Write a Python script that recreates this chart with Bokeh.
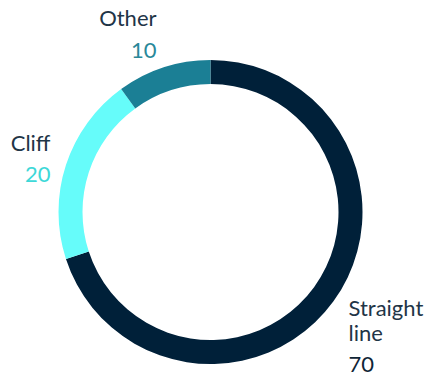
import math
from bokeh.plotting import figure
from bokeh.models import ColumnDataSource, Range1d
from bokeh.core.properties import value
from bokeh.embed import file_html
from bokeh.resources import INLINE

# data
categories = ["Straight line", "Cliff", "Other"]
values = [70, 20, 10]
seg_colors = ["#002039", "#66fcfa", "#1b7f95"]
value_colors = ["#0f2536", "#3ed8d8", "#2a8899"]
name_color = "#1f3547"

W, H = 427, 377
cx, cy = 210, H - 211.5
r_out, r_in = 152, 128

total = sum(values)
starts, ends = [], []
acc = 0
for v in values:
    starts.append(math.pi / 2 - 2 * math.pi * acc / total)
    acc += v
    ends.append(math.pi / 2 - 2 * math.pi * acc / total)

p = figure(width=W, height=H, output_backend="svg", toolbar_location=None,
           x_range=Range1d(0, W), y_range=Range1d(0, H), min_border=0)
p.axis.visible = False
p.grid.visible = False
p.outline_line_color = None

src = ColumnDataSource(dict(start=starts, end=ends, color=seg_colors))
p.annular_wedge(x=cx, y=cy, inner_radius=r_in, outer_radius=r_out,
                start_angle="start", end_angle="end", direction="clock",
                fill_color="color", line_color=None, source=src)

# label layout (pixel positions from top-left)
name_x = [348, 50, 156]
name_top = [293, 128, 3]
value_top = [356, 166, 42]
aligns = ["left", "right", "right"]
names = ["Straight\nline", "Cliff", "Other"]

fs = "22px"
font = value("Lato")
for i in range(3):
    p.text(x=[name_x[i]], y=[H - name_top[i]], text=[names[i]],
           text_font=font, text_font_size=fs, text_color=name_color,
           text_align=aligns[i], text_baseline="top", text_line_height=0.95)
    p.text(x=[name_x[i]], y=[H - value_top[i]], text=[str(values[i])],
           text_font=font, text_font_size=fs, text_color=value_colors[i],
           text_align=aligns[i], text_baseline="top")

open("out.html", "w").write(file_html(p, INLINE))
